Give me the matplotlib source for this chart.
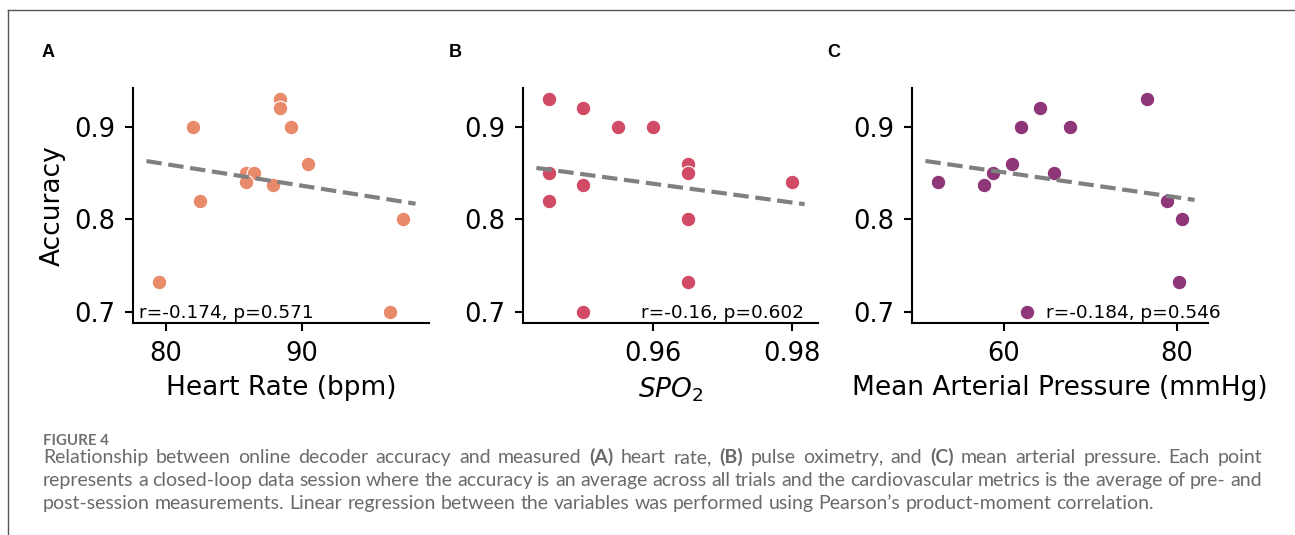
import numpy as np
import matplotlib
matplotlib.use("Agg")
import matplotlib.pyplot as plt
from matplotlib.transforms import IdentityTransform
from matplotlib.lines import Line2D

# ---------------- data ----------------
hr_bpm = [79.5, 82.0, 82.5, 85.9, 86.5, 85.9, 87.9, 88.4, 88.4, 89.2, 90.4, 97.4, 96.4]
acc_hr = [0.733, 0.90, 0.82, 0.85, 0.85, 0.84, 0.8375, 0.93, 0.92, 0.90, 0.86, 0.80, 0.70]

spo2 = [0.945, 0.945, 0.945, 0.950, 0.950, 0.950, 0.955, 0.960, 0.965, 0.965, 0.965, 0.965, 0.980]
acc_spo2 = [0.93, 0.85, 0.82, 0.92, 0.8375, 0.70, 0.90, 0.90, 0.86, 0.85, 0.80, 0.733, 0.84]

map_mmhg = [52.4, 57.7, 58.8, 61.0, 62.0, 64.2, 65.8, 67.6, 76.5, 78.8, 80.6, 80.2, 62.7]
acc_map = [0.84, 0.8375, 0.85, 0.86, 0.90, 0.92, 0.85, 0.90, 0.93, 0.82, 0.80, 0.733, 0.70]

panel_letters = ["A", "B", "C"]
x_labels = ["Heart Rate (bpm)", r"$SPO_2$", "Mean Arterial Pressure (mmHg)"]
stat_labels = ["r=-0.174, p=0.571", "r=-0.16, p=0.602", "r=-0.184, p=0.546"]
x_ticks = [[80, 90], [0.96, 0.98], [60, 80]]
y_ticks = [0.7, 0.8, 0.9]
colors = ["#E98A6A", "#D24B66", "#8E3677"]

caption_title = "FIGURE 4"
caption_lines = [
    [("Relationship", 0), ("between", 0), ("online", 0), ("decoder", 0), ("accuracy", 0), ("and", 0),
     ("measured", 0), ("(A)", 1), ("heart", 0), ("rate,", 0), ("(B)", 1), ("pulse", 0), ("oximetry,", 0),
     ("and", 0), ("(C)", 1), ("mean", 0), ("arterial", 0), ("pressure.", 0), ("Each", 0), ("point", 0)],
    [(w, 0) for w in "represents a closed-loop data session where the accuracy is an average across all trials and the cardiovascular metrics is the average of pre- and".split()],
    [(w, 0) for w in "post-session measurements. Linear regression between the variables was performed using Pearson\u2019s product-moment correlation.".split()],
]

# ---------------- figure ----------------
W, H = 1295, 535
fig = plt.figure(figsize=(W / 100, H / 100), dpi=100)
fig.patch.set_facecolor("white")

def px_rect(left, top, right, bottom):
    return [left / W, 1 - bottom / H, (right - left) / W, (bottom - top) / H]

ax_boxes = [(133, 88, 429, 323), (523, 88, 818, 323), (912, 88, 1208, 323)]
xs_data = [hr_bpm, spo2, map_mmhg]
ys_data = [acc_hr, acc_spo2, acc_map]
stat_pos = [(0.02, "left"), (0.951, "right"), (0.452, "left")]
letter_pos = [(48.5, 52.5), (455, 52.5), (834, 52.5)]

for i in range(3):
    ax = fig.add_axes(px_rect(*ax_boxes[i]))
    x = np.array(xs_data[i], dtype=float)
    y = np.array(ys_data[i], dtype=float)
    ax.scatter(x, y, s=110, color=colors[i], edgecolor="white", linewidth=0.8, zorder=2)
    xl = ax.get_xlim()
    coef = np.polyfit(x, y, 1)
    xx = np.array(xl)
    ax.plot(xx, np.polyval(coef, xx), linestyle="--", color="#808080", lw=3.0, zorder=3)
    ax.set_xticks(x_ticks[i])
    ax.set_yticks(y_ticks)
    if i == 0:
        ax.set_yticklabels(["0.7", "0.8", "0.9"])
    for s in ["top", "right"]:
        ax.spines[s].set_visible(False)
    for s in ["left", "bottom"]:
        ax.spines[s].set_linewidth(1.5)
    ax.tick_params(axis="both", length=6, width=1.5, labelsize=18.5, pad=7)
    ax.set_xlabel(x_labels[i], fontsize=19, labelpad=6)
    if i == 0:
        ax.set_ylabel("Accuracy", fontsize=19, labelpad=6)
    ax.text(stat_pos[i][0], 0.022, stat_labels[i], transform=ax.transAxes,
            ha=stat_pos[i][1], va="baseline", fontsize=13.3, zorder=4)
    lx, ly = letter_pos[i]
    fig.text(lx, H - ly, panel_letters[i], transform=IdentityTransform(), ha="center", va="center",
             fontsize=13, fontweight="bold", family="Liberation Sans")

# frame lines
fig.add_artist(Line2D([8 / W, 1.0], [1 - 10 / H, 1 - 10 / H], transform=fig.transFigure, color="#555555", lw=1))
fig.add_artist(Line2D([8 / W, 8 / W], [1 - 10 / H, 0], transform=fig.transFigure, color="#555555", lw=1))

# caption
cap_font = "Lato"
cap_color = "#6a6a6a"
cap_size = 14.0
renderer = fig.canvas.get_renderer()
fig.text(43, H - 445, caption_title, transform=IdentityTransform(), ha="left", va="baseline",
         fontsize=10.8, fontweight="bold", family=cap_font, color="#707070")

x0, x1 = 43, 1262
baselines = [463, 486, 509]

def word_width(word, bold):
    t = fig.text(0, 0, word, transform=IdentityTransform(), fontsize=cap_size, family=cap_font,
                 fontweight="bold" if bold else "normal")
    w = t.get_window_extent(renderer).width
    t.remove()
    return w

space_w = word_width("x x", 0) - word_width("xx", 0)
for li, tokens in enumerate(caption_lines):
    widths = [word_width(w, b) for w, b in tokens]
    if li < len(caption_lines) - 1:
        gap = (x1 - x0 - sum(widths)) / (len(tokens) - 1)
    else:
        gap = space_w
    xpos = x0
    for (w, b), wd in zip(tokens, widths):
        fig.text(xpos, H - baselines[li], w, transform=IdentityTransform(), ha="left", va="baseline",
                 fontsize=cap_size, family=cap_font, fontweight="bold" if b else "normal", color=cap_color)
        xpos += wd + gap

fig.savefig("out.png", dpi=100, facecolor="white")
